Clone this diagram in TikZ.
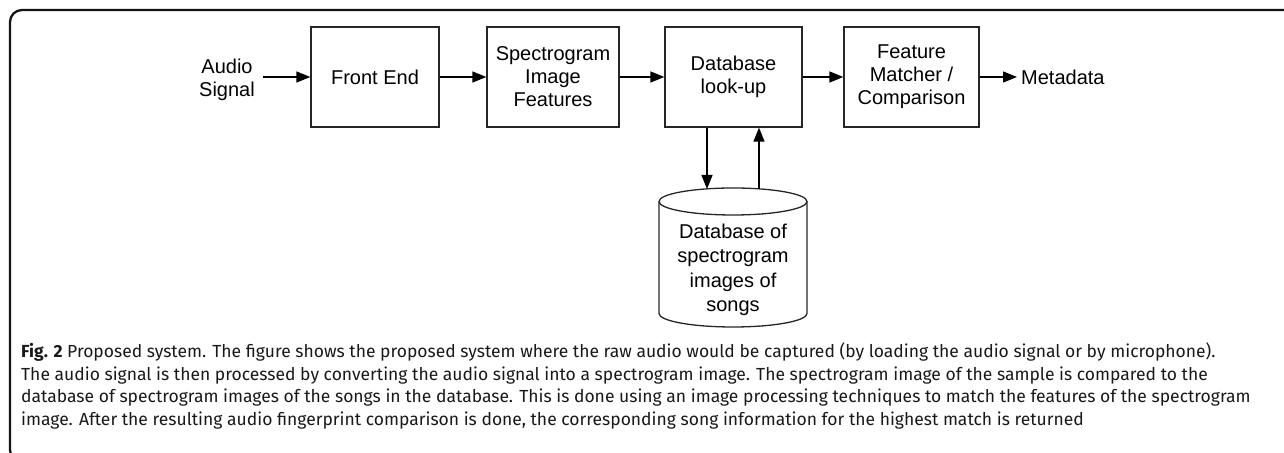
\documentclass[tikz,border=0pt]{standalone}
\usepackage{fontspec}
\setmainfont{Liberation Sans}
\newfontfamily\capfont{Fira Sans}
\usetikzlibrary{arrows.meta}
\begin{document}
\begin{tikzpicture}[x=1bp,y=1bp,
  blk/.style={draw=black!85, line width=1.3bp, minimum width=#1, minimum height=100bp, inner sep=0pt, align=center,
    font=\fontsize{20bp}{23bp}\selectfont},
  lbl/.style={inner sep=0pt, align=center, font=\fontsize{20bp}{23bp}\selectfont},
  conn/.style={line width=1.3bp, -{Triangle[length=14bp,width=11bp]}},
  capline/.style={anchor=base west, inner sep=0pt, text=black!90, font=\capfont\fontsize{17.5bp}{21bp}\selectfont}
]
\useasboundingbox (0,0) rectangle (1284,453);
\begin{scope}
\clip (0,0) rectangle (1284,453);
\draw[line width=2.3bp, black!92, rounded corners=12bp] (10,-9) rectangle (1310,443);
\end{scope}

% blocks
\node[blk=128bp] (fe)   at (375,376)   {Front End};
\node[blk=132bp] (spec) at (553,376)   {Spectrogram\\Image\\Features};
\node[blk=137bp] (look) at (733.5,376) {Database\\look-up};
\node[blk=135bp] (fm)   at (911.5,376) {Feature\\Matcher /\\Comparison};

\node[lbl, inner xsep=8bp] (audio) at (227,373) {Audio\\Signal};
\node[lbl, anchor=west, inner xsep=4bp] (meta) at (1017,376) {Metadata};

% database cylinder
\draw[draw=black!85, line width=1.3bp] (733,251.5) ellipse [x radius=74, y radius=13.5];
\draw[draw=black!85, line width=1.3bp] (659,251.5) -- (659,139.5)
  arc[start angle=180, end angle=360, x radius=74, y radius=13.5] -- (807,251.5);
\node[lbl, font=\fontsize{20bp}{24.5bp}\selectfont] (db) at (733,183) {Database of\\spectrogram\\images of\\songs};
\coordinate (dbin)  at (707,264);
\coordinate (dbout) at (759,264);

% connectors
\draw[conn] (audio.east |- fe.west) -- (fe.west);
\draw[conn] (fe.east) -- (spec.west);
\draw[conn] (spec.east) -- (look.west);
\draw[conn] (look.east) -- (fm.west);
\draw[conn] (fm.east) -- (meta.west);
\draw[conn] (look.south -| dbin) -- (dbin);
\draw[conn] (dbout) -- (look.south -| dbout);

% caption
\node[capline] (c1) at (21,95)   {\textbf{Fig. 2} Proposed system. The figure shows the proposed system where the raw audio would be captured (by loading the audio signal or by microphone).};
\node[capline] (c2) at (21,72.5) {The audio signal is then processed by converting the audio signal into a spectrogram image. The spectrogram image of the sample is compared to the};
\node[capline] (c3) at (21,50)   {database of spectrogram images of the songs in the database. This is done using an image processing techniques to match the features of the spectrogram};
\node[capline] (c4) at (21,27.5) {image. After the resulting audio fingerprint comparison is done, the corresponding song information for the highest match is returned};
\end{tikzpicture}
\end{document}
